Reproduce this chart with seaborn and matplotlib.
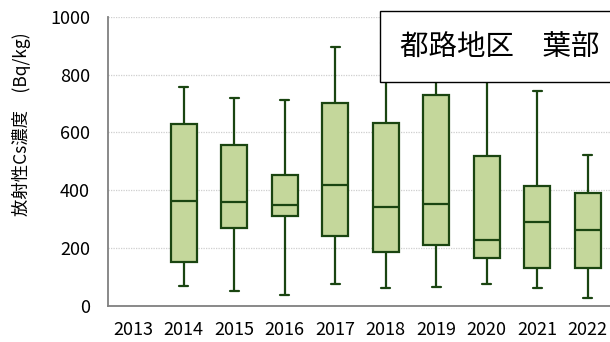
import numpy as np
import pandas as pd
import matplotlib
matplotlib.use("Agg")
import matplotlib.pyplot as plt
import seaborn as sns
from matplotlib.patches import Rectangle
from matplotlib.ticker import FixedLocator

# Yearly radiocesium concentration in leaves (Bq/kg): five-number summaries
years = ["2013", "2014", "2015", "2016", "2017", "2018", "2019", "2020", "2021", "2022"]
minimum = [None, 70, 53, 38, 76, 61, 67, 76, 63, 27]
q1 = [None, 152, 269, 312, 243, 187, 211, 167, 132, 132]
median = [None, 363, 358, 348, 418, 342, 353, 228, 290, 263]
q3 = [None, 628, 558, 454, 703, 633, 728, 518, 415, 390]
maximum = [None, 758, 718, 712, 894, 910, 970, 900, 744, 523]

yticks = [0, 200, 400, 600, 800, 1000]
title = "都路地区　葉部"
ylabel = "放射性Cs濃度　(Bq/kg)"

FILL = "#C4D79B"
EDGE = "#1A4511"
AXIS_GRAY = "#808080"

rows = []
for yr, a, b, c, d, e in zip(years, minimum, q1, median, q3, maximum):
    if a is None:
        continue
    for v in (a, b, c, d, e):
        rows.append({"year": yr, "cs": v})
df = pd.DataFrame(rows)

sns.set_theme(style="white")
plt.rcParams["font.family"] = ["Noto Sans CJK JP", "DejaVu Sans"]

fig = plt.figure(figsize=(6.1, 3.42), dpi=100)
ax = fig.add_axes([108 / 610, 1 - 306 / 342, (613 - 108) / 610, (306 - 16.7) / 342])

sns.boxplot(
    data=df, x="year", y="cs", order=years,
    whis=(0, 100), width=0.52, color=FILL, linecolor=EDGE,
    linewidth=1.6, saturation=1, showfliers=False,
    capwidths=0.17, ax=ax,
)

ax.set_xlim(-0.5, 9.5)
ax.set_ylim(0, 1000)
ax.set_yticks(yticks)
ax.set_yticklabels([str(t) for t in yticks])
ax.yaxis.grid(True, linestyle=(0, (1, 1)), color="#CFCFCF", linewidth=0.9)
ax.xaxis.grid(False)
ax.set_axisbelow(True)

ax.xaxis.set_minor_locator(FixedLocator(np.arange(-0.5, 10, 1)))
ax.tick_params(axis="x", which="major", length=0, pad=11, labelsize=13, labelcolor="black")
ax.tick_params(axis="x", which="minor", length=8.5, width=1, direction="inout", color=AXIS_GRAY)
ax.tick_params(axis="y", which="major", length=0, pad=13, labelsize=13, labelcolor="black")

for side in ("top", "right"):
    ax.spines[side].set_visible(False)
for side in ("left", "bottom"):
    ax.spines[side].set_color(AXIS_GRAY)
    ax.spines[side].set_linewidth(1.3)

ax.set_xlabel("")
ax.set_ylabel(ylabel, fontsize=12.5, color="black")
ax.yaxis.set_label_coords((31 - 108) / 505, 0.63)

# Title panel overlapping the upper right of the plot
fig.add_artist(Rectangle((379.5 / 610, 1 - 82 / 342), 0.5, (82 - 11) / 342,
                         transform=fig.transFigure, facecolor="white",
                         edgecolor="black", linewidth=1, clip_on=False, zorder=10))
fig.text(500 / 610, 1 - 48 / 342, title, ha="center", va="center",
         fontsize=20.5, color="black", zorder=11)

fig.savefig("out.png", dpi=100)
